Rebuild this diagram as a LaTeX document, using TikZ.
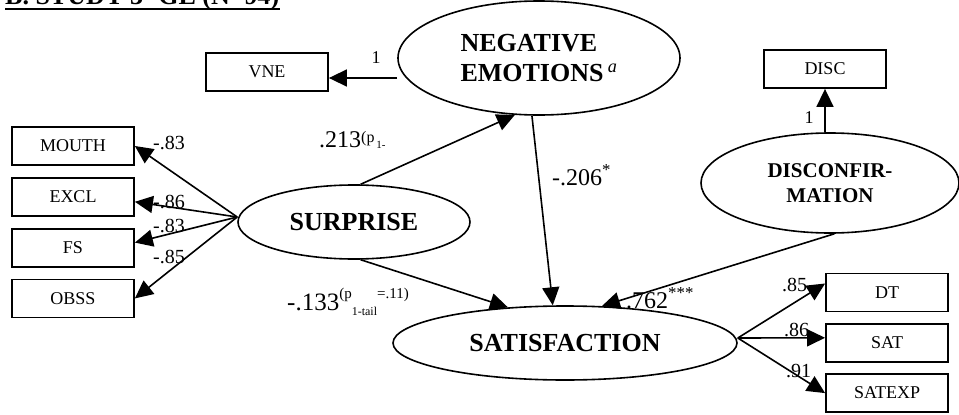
\documentclass[tikz,border=0pt]{standalone}
\usepackage{fontspec}
\setmainfont{Liberation Serif}
\usetikzlibrary{shapes.geometric, arrows.meta, positioning}

\begin{document}
\begin{tikzpicture}[x=1pt, y=-1pt, >={Triangle[length=18pt, width=17pt]},
    obs/.style={draw, rectangle, line width=1.8pt, minimum width=122pt, minimum height=38pt, inner sep=0pt, font=\fontsize{18}{18}\selectfont},
    latent/.style={draw, ellipse, line width=1.6pt, inner sep=0pt, align=center, font=\bfseries\fontsize{26}{30}\selectfont},
    load/.style={inner sep=0pt, anchor=base west, font=\fontsize{20}{20}\selectfont},
    coef/.style={inner sep=0pt, anchor=base west, font=\fontsize{24}{24}\selectfont},
    arr/.style={->, line width=1.6pt}]
    \useasboundingbox (0,0) rectangle (959,415);
    % title, cut off at the top
    \node[inner sep=0pt, anchor=base west, font=\bfseries\fontsize{26}{26}\selectfont] (title) at (5,5) {B. STUDY 3- GL (N=94)};
    \draw[line width=2pt] ([yshift=-3.5pt]title.base west) -- ([yshift=-3.5pt]title.base east);
    % latent variables
    \node[latent, align=left, minimum width=282pt, minimum height=114pt] (neg) at (539,58) {NEGATIVE\\EMOTIONS\,\textsuperscript{\normalfont\itshape a}};
    \node[latent, minimum width=232pt, minimum height=74pt] (sur) at (354,222) {SURPRISE};
    \node[latent, minimum width=344pt, minimum height=74pt] (sat) at (565,343) {SATISFACTION};
    \node[latent, minimum width=258pt, minimum height=100pt, font=\bfseries\fontsize{21}{25}\selectfont] (dis) at (830,183) {DISCONFIR-\\MATION};
    % indicators
    \node[obs] (vne) at (267,72) {VNE};
    \node[obs] (disc) at (825,69) {DISC};
    \node[obs] (mouth) at (73,146) {MOUTH};
    \node[obs, below=11pt of mouth] (excl) {EXCL};
    \node[obs, below=11pt of excl] (fs) {FS};
    \node[obs, below=11pt of fs] (obss) {OBSS};
    \node[obs] (dt) at (887,292.5) {DT};
    \node[obs, below=10.5pt of dt] (satb) {SAT};
    \node[obs, below=10.5pt of satb] (satexp) {SATEXP};
    % loadings
    \coordinate (vneIn) at ([yshift=-6pt]vne.east);
    \draw[arr] (vneIn -| neg.west) -- (vneIn);
    \draw[arr] (disc.south |- dis.north) -- (disc.south);
    \coordinate (surL) at ([yshift=5pt]sur.west);
    \draw[arr] (surL) -- (mouth.east);
    \draw[arr] (surL) -- ([yshift=-5pt]excl.east);
    \draw[arr] (surL) -- ([yshift=5pt]fs.east);
    \draw[arr] (surL) -- (obss.east);
    \coordinate (satR) at ([yshift=5pt]sat.east);
    \draw[arr] (satR) -- ([yshift=9pt]dt.west);
    \draw[arr] (satR) -- ([yshift=5pt]satb.west);
    \draw[arr] (satR) -- (satexp.west);
    % structural paths
    \draw[arr] (sur.80) -- (neg.247);
    \draw[arr] (neg.263) -- (sat.108);
    \draw[arr] (sur.280) -- (sat.148);
    \draw[arr] (dis.275) -- (sat.45);
    % labels
    \node[load, anchor=base, font=\fontsize{18}{18}\selectfont] (lVne) at (376,63) {1};
    \node[load, anchor=base, font=\fontsize{18}{18}\selectfont] (lDisc) at (809,123) {1};
    \node[load] (lMouth) at (153,149) {-.83};
    \node[load] (lExcl) at (153,208) {-.86};
    \node[load] (lFs) at (153,232) {-.83};
    \node[load] (lObss) at (153,263) {-.85};
    \node[load] (lDt) at (782,291) {.85};
    \node[load] (lSat) at (784,336) {.86};
    \node[load] (lSatexp) at (786,377) {.91};
    \node[coef] (cSurNeg) at (319,147) {.213\raisebox{5pt}{\fontsize{16}{16}\selectfont(p\raisebox{-6pt}{\fontsize{11}{11}\selectfont\,1-}}};
    \node[coef] (cNegSat) at (552,185) {-.206\textsuperscript{*}};
    \node[coef, font=\fontsize{25}{25}\selectfont] (cSurSat) at (287,310) {-.133\raisebox{12pt}{\fontsize{15}{15}\selectfont(p}\raisebox{-5pt}{\fontsize{12}{12}\selectfont 1-tail}\raisebox{12pt}{\fontsize{15}{15}\selectfont=.11)}};
    \node[coef] (cDisSat) at (626,308) {.762\textsuperscript{***}};
\end{tikzpicture}
\end{document}
